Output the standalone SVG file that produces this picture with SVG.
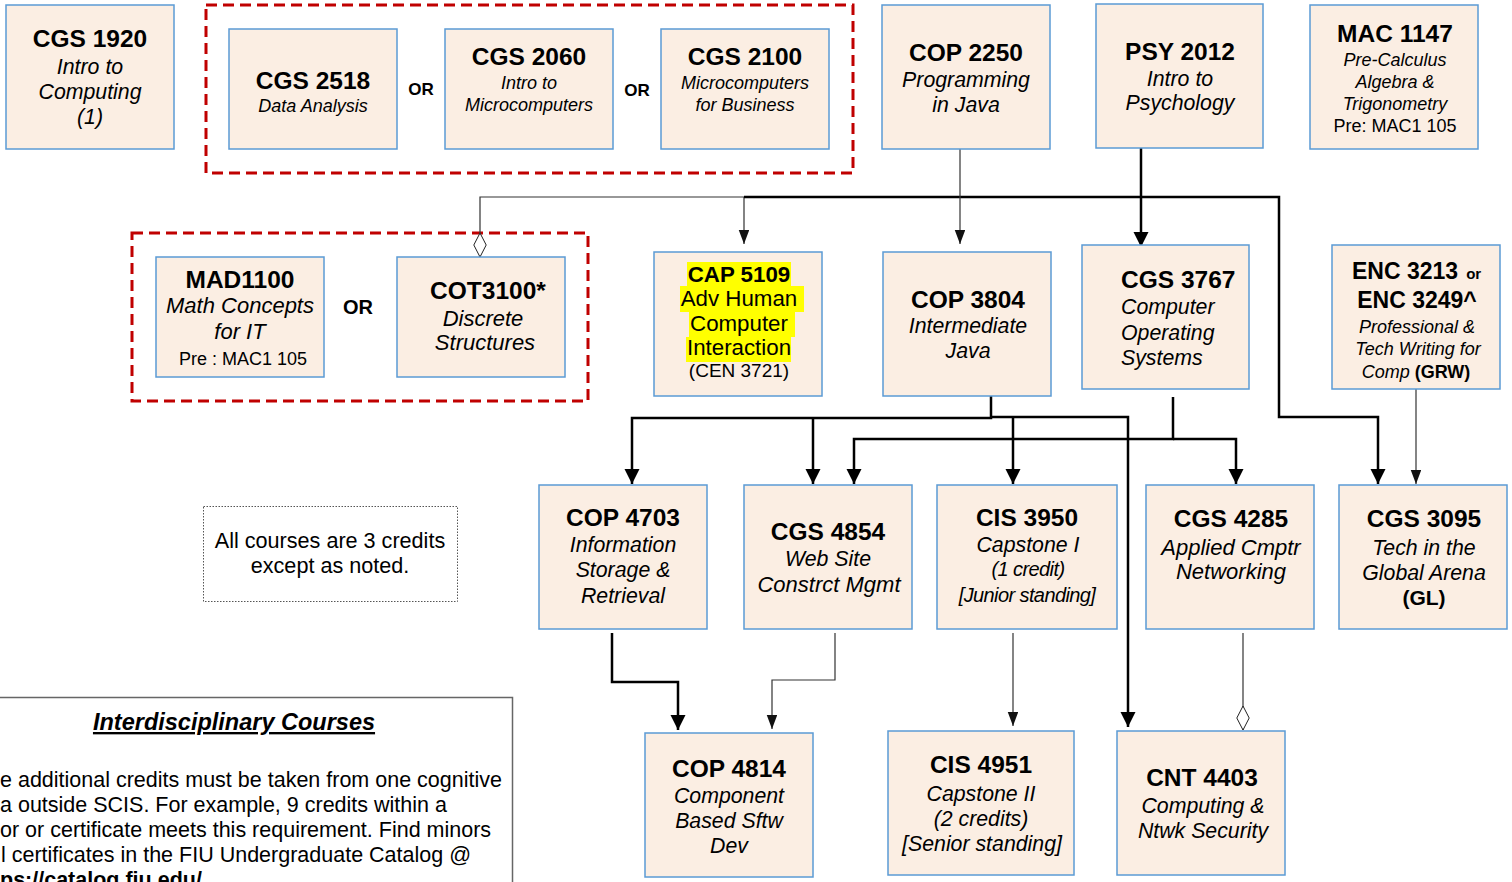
<svg xmlns="http://www.w3.org/2000/svg" width="1512" height="882" viewBox="0 0 1512 882">
<style>
text{font-family:"Liberation Sans",Arial,sans-serif;fill:#000}
.box{fill:#FBEEE3;stroke:#5B9BD5;stroke-width:1.5}
.grp{fill:none;stroke:#C00000;stroke-width:3;stroke-dasharray:11 6}
.t{font-weight:bold;font-size:24.5px;text-anchor:middle}
.i{font-style:italic;font-size:21.3px;text-anchor:middle}
.s{font-style:italic;font-size:18px;text-anchor:middle}
.r{font-size:18px;text-anchor:middle}
.or{font-weight:bold;font-size:17px;text-anchor:middle}
.thick{fill:none;stroke:#000;stroke-width:2.5}
.thin{fill:none;stroke:#333;stroke-width:1.2}
.hl{fill:#FFFF00}
.body{font-size:21.5px}
</style>
<defs>
<marker id="ak" markerUnits="userSpaceOnUse" markerWidth="16" markerHeight="16" refX="15" refY="7.5" orient="auto"><path d="M0,0 L15,7.5 L0,15 z" fill="#000"/></marker>
<marker id="at" markerUnits="userSpaceOnUse" markerWidth="15" markerHeight="12" refX="14" refY="5.25" orient="auto"><path d="M0,0 L14,5.25 L0,10.5 z" fill="#111"/></marker>
<marker id="dm" markerUnits="userSpaceOnUse" markerWidth="27" markerHeight="15" refX="25" refY="7" orient="auto-start-reverse"><path d="M1,7 L13,0.8 L25,7 L13,13.2 z" fill="#fff" stroke="#222" stroke-width="1"/></marker>
</defs>

<!-- group (OR) frames -->
<rect class="grp" x="206" y="5" width="647" height="168"/>
<rect class="grp" x="132" y="233" width="456" height="168"/>

<!-- connectors -->
<g id="connectors">
<path class="thin" d="M480,257 V197 H744 V244" marker-start="url(#dm)" marker-end="url(#at)"/>
<path class="thick" d="M744,197 H1279 V417 H1378 V484" marker-end="url(#ak)"/>
<path class="thick" d="M1141,148 V247" marker-end="url(#ak)"/>
<path class="thin" d="M960,149 V244" marker-end="url(#at)"/>
<path class="thick" d="M991,376 V418 H632 V484" marker-end="url(#ak)"/>
<path class="thick" d="M813,418 V484" marker-end="url(#ak)"/>
<path class="thick" d="M1013,418 V484" marker-end="url(#ak)"/>
<path class="thick" d="M991,417 H1128 V727" marker-end="url(#ak)"/>
<path class="thick" d="M1173,397 V439 H854 V484" marker-end="url(#ak)"/>
<path class="thick" d="M1173,439 H1236 V484" marker-end="url(#ak)"/>
<path class="thin" d="M1416,389 V484" marker-end="url(#at)"/>
<path class="thick" d="M612,633 V682 H678 V730" marker-end="url(#ak)"/>
<path class="thin" d="M835,633 V680 H772 V729" marker-end="url(#at)"/>
<path class="thin" d="M1013,633 V726" marker-end="url(#at)"/>
<path class="thin" d="M1243,633 V730" marker-end="url(#dm)"/>
</g>

<g id="cgs1920"><rect class="box" x="6" y="5" width="168" height="144"/>
<text class="t" x="90" y="47">CGS 1920</text>
<text class="i" x="90" y="74">Intro to</text>
<text class="i" x="90" y="99">Computing</text>
<text class="i" x="90" y="124">(1)</text></g>

<g id="cgs2518"><rect class="box" x="229" y="29" width="168" height="120"/>
<text class="t" x="313" y="89">CGS 2518</text>
<text class="s" x="313" y="112">Data Analysis</text></g>

<text class="or" x="421" y="95">OR</text>

<g id="cgs2060"><rect class="box" x="445" y="29" width="168" height="120"/>
<text class="t" x="529" y="65">CGS 2060</text>
<text class="s" x="529" y="89">Intro to</text>
<text class="s" x="529" y="111">Microcomputers</text></g>

<text class="or" x="637" y="96">OR</text>

<g id="cgs2100"><rect class="box" x="661" y="29" width="168" height="120"/>
<text class="t" x="745" y="65">CGS 2100</text>
<text class="s" x="745" y="89">Microcomputers</text>
<text class="s" x="745" y="111">for Business</text></g>

<g id="cop2250"><rect class="box" x="882" y="5" width="168" height="144"/>
<text class="t" x="966" y="61">COP 2250</text>
<text class="i" x="966" y="87">Programming</text>
<text class="i" x="966" y="112">in Java</text></g>

<g id="psy2012"><rect class="box" x="1096" y="4" width="167" height="144"/>
<text class="t" x="1180" y="60">PSY 2012</text>
<text class="i" x="1180" y="86">Intro to</text>
<text class="i" x="1180" y="110">Psychology</text></g>

<g id="mac1147"><rect class="box" x="1310" y="5" width="168" height="144"/>
<text class="t" x="1395" y="42">MAC 1147</text>
<text class="s" x="1395" y="66">Pre-Calculus</text>
<text class="s" x="1395" y="88">Algebra &amp;</text>
<text class="s" x="1395" y="110">Trigonometry</text>
<text class="r" x="1395" y="132">Pre: MAC1 105</text></g>

<g id="mad1100"><rect class="box" x="156" y="257" width="168" height="120"/>
<text class="t" x="240" y="288">MAD1100</text>
<text class="i" x="240" y="313" style="font-size:22px">Math Concepts</text>
<text class="i" x="240" y="339" style="font-size:22px">for IT</text>
<text class="r" x="243" y="365">Pre : MAC1 105</text></g>

<text class="or" x="358" y="314" style="font-size:20px">OR</text>

<g id="cot3100"><rect class="box" x="397" y="257" width="168" height="120"/>
<text class="t" x="488" y="299">COT3100*</text>
<text class="i" x="483" y="326" style="font-size:22px">Discrete</text>
<text class="i" x="485" y="350" style="font-size:22px">Structures</text></g>

<g id="cap5109"><rect class="box" x="654" y="252" width="168" height="144"/>
<rect class="hl" x="687" y="262" width="104" height="24"/>
<rect class="hl" x="680" y="286" width="124" height="26"/>
<rect class="hl" x="689" y="312" width="106" height="25"/>
<rect class="hl" x="686" y="337" width="105" height="25"/>
<text x="739" y="282" style="font-weight:bold;font-size:22.3px;text-anchor:middle">CAP 5109</text>
<text x="739" y="306" style="font-size:22.3px;text-anchor:middle">Adv Human</text>
<text x="739" y="331" style="font-size:22.3px;text-anchor:middle">Computer</text>
<text x="739" y="355" style="font-size:22.3px;text-anchor:middle">Interaction</text>
<text x="739" y="377" style="font-size:19px;text-anchor:middle">(CEN 3721)</text></g>

<g id="cop3804"><rect class="box" x="883" y="252" width="168" height="144"/>
<text class="t" x="968" y="308">COP 3804</text>
<text class="i" x="968" y="333">Intermediate</text>
<text class="i" x="968" y="358">Java</text></g>

<g id="cgs3767"><rect class="box" x="1082" y="245" width="167" height="144"/>
<text class="t" x="1121" y="288" style="text-anchor:start">CGS 3767</text>
<text class="i" x="1121" y="314" style="text-anchor:start">Computer</text>
<text class="i" x="1121" y="340" style="text-anchor:start">Operating</text>
<text class="i" x="1121" y="365" style="text-anchor:start">Systems</text></g>

<g id="enc3213"><rect class="box" x="1332" y="245" width="168" height="144"/>
<text x="1352" y="279" style="font-weight:bold;font-size:23px">ENC 3213<tspan dx="8" style="font-size:15px">or</tspan></text>
<text x="1417" y="308" style="font-weight:bold;font-size:23px;text-anchor:middle">ENC 3249^</text>
<text class="s" x="1417" y="333">Professional &amp;</text>
<text class="s" x="1418" y="355">Tech Writing for</text>
<text x="1416" y="378" style="font-size:18px;text-anchor:middle"><tspan font-style="italic">Comp </tspan><tspan font-weight="bold">(GRW)</tspan></text></g>

<g id="cop4703"><rect class="box" x="539" y="485" width="168" height="144"/>
<text class="t" x="623" y="526">COP 4703</text>
<text class="i" x="623" y="552">Information</text>
<text class="i" x="623" y="577">Storage &amp;</text>
<text class="i" x="623" y="603">Retrieval</text></g>

<g id="cgs4854"><rect class="box" x="744" y="485" width="168" height="144"/>
<text class="t" x="828" y="540">CGS 4854</text>
<text class="i" x="828" y="566">Web Site</text>
<text class="i" x="829" y="592" style="font-size:22px">Constrct Mgmt</text></g>

<g id="cis3950"><rect class="box" x="937" y="485" width="180" height="144"/>
<text class="t" x="1027" y="526">CIS 3950</text>
<text class="i" x="1028" y="552">Capstone I</text>
<text class="i" x="1028" y="576" style="font-size:20px;letter-spacing:-0.6px">(1 credit)</text>
<text class="i" x="1027" y="602" style="font-size:20px;letter-spacing:-0.6px">[Junior standing]</text></g>

<g id="cgs4285"><rect class="box" x="1146" y="485" width="168" height="144"/>
<text class="t" x="1231" y="527">CGS 4285</text>
<text class="i" x="1231" y="555" style="font-size:22px">Applied Cmptr</text>
<text class="i" x="1231" y="579" style="font-size:22px">Networking</text></g>

<g id="cgs3095"><rect class="box" x="1339" y="485" width="168" height="144"/>
<text class="t" x="1424" y="527">CGS 3095</text>
<text class="i" x="1424" y="555">Tech in the</text>
<text class="i" x="1424" y="580">Global Arena</text>
<text x="1424" y="605" style="font-weight:bold;font-size:21px;text-anchor:middle">(GL)</text></g>

<g id="cop4814"><rect class="box" x="645" y="733" width="168" height="144"/>
<text class="t" x="729" y="777">COP 4814</text>
<text class="i" x="729" y="803">Component</text>
<text class="i" x="729" y="828">Based Sftw</text>
<text class="i" x="729" y="853">Dev</text></g>

<g id="cis4951"><rect class="box" x="888" y="731" width="186" height="144"/>
<text class="t" x="981" y="773">CIS 4951</text>
<text class="i" x="981" y="801">Capstone II</text>
<text class="i" x="981" y="826">(2 credits)</text>
<text class="i" x="982" y="851">[Senior standing]</text></g>

<g id="cnt4403"><rect class="box" x="1117" y="731" width="168" height="144"/>
<text class="t" x="1202" y="786">CNT 4403</text>
<text class="i" x="1203" y="813">Computing &amp;</text>
<text class="i" x="1203" y="838">Ntwk Security</text></g>

<g id="note"><rect x="203.5" y="506.5" width="254" height="95" fill="#fff" stroke="#555" stroke-width="1" stroke-dasharray="1.5 1.5"/>
<text x="330" y="548" style="font-size:21.6px;text-anchor:middle">All courses are 3 credits</text>
<text x="330" y="573" style="font-size:21.6px;text-anchor:middle">except as noted.</text></g>

<g id="interdisciplinary"><rect x="-20" y="697.5" width="532.5" height="220" fill="#fff" stroke="#666" stroke-width="1.5"/>
<text x="234" y="730" style="font-weight:bold;font-style:italic;font-size:23.5px;text-anchor:middle;text-decoration:underline">Interdisciplinary Courses</text>
<text class="body" x="0" y="787">e additional credits must be taken from one cognitive</text>
<text class="body" x="0" y="812">a outside SCIS. For example, 9 credits within a</text>
<text class="body" x="0" y="837">or or certificate meets this requirement. Find minors</text>
<text class="body" x="1" y="862">l certificates in the FIU Undergraduate Catalog @</text>
<text class="body" x="0" y="887" style="font-weight:bold">ps://catalog.fiu.edu/</text></g>
</svg>
